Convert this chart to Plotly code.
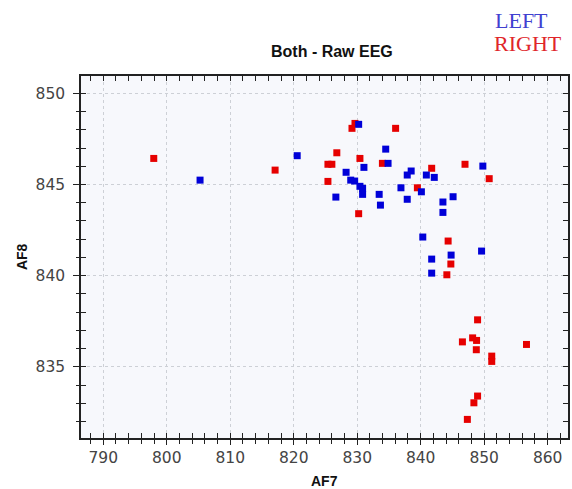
import plotly.graph_objects as go

# LEFT (blue) series: AF7 (x) vs AF8 (y)
left_af7 = [805.25, 820.55, 830.23, 834.49, 834.86, 831.06, 828.25, 828.98, 829.60, 830.43,
            830.85, 830.85, 826.64, 833.46, 833.66, 836.89, 837.88, 838.50, 837.88, 840.11,
            840.89, 842.14, 843.50, 843.50, 845.10, 849.79, 840.33, 849.59, 841.73, 844.79,
            841.73]
left_af8 = [845.24, 846.58, 848.30, 846.94, 846.16, 845.94, 845.67, 845.24, 845.19, 844.90,
            844.79, 844.46, 844.31, 844.46, 843.87, 844.82, 845.52, 845.74, 844.19, 844.60,
            845.52, 845.39, 844.04, 843.47, 844.33, 846.01, 842.12, 841.35, 840.91, 841.13,
            840.14]

# RIGHT (red) series
right_af7 = [797.96, 817.07, 829.65, 829.18, 836.05, 826.79, 825.39, 826.01, 830.43, 825.39,
             833.97, 841.73, 846.98, 850.79, 839.48, 830.23, 844.32, 844.75, 844.12, 848.96,
             846.57, 848.18, 848.80, 848.76, 856.66, 851.19, 851.19, 848.96, 848.38, 847.35]
right_af8 = [846.43, 845.79, 848.35, 848.08, 848.08, 846.74, 846.11, 846.11, 846.43, 845.17,
             846.16, 845.89, 846.11, 845.32, 844.82, 843.40, 841.90, 840.64, 840.05, 837.58,
             836.37, 836.59, 836.45, 835.94, 836.23, 835.59, 835.30, 833.40, 833.03, 832.12]

x_ticks = [790, 800, 810, 820, 830, 840, 850, 860]
y_ticks = [835, 840, 845, 850]
x_range = [786.5, 863.2]
y_range = [831.1, 850.95]

BLUE = "#0000D8"
RED = "#E60000"
tick_font = dict(family="DejaVu Sans", size=15.5, color="#444444")

fig = go.Figure()
fig.add_trace(go.Scatter(x=right_af7, y=right_af8, mode="markers", name="RIGHT",
                         marker=dict(symbol="square", size=7, color=RED, line=dict(width=0)),
                         showlegend=False))
fig.add_trace(go.Scatter(x=left_af7, y=left_af8, mode="markers", name="LEFT",
                         marker=dict(symbol="square", size=7, color=BLUE, line=dict(width=0)),
                         showlegend=False))
# invisible trace to activate overlay axes for inside ticks
fig.add_trace(go.Scatter(x=[None], y=[None], xaxis="x2", yaxis="y2", showlegend=False,
                         hoverinfo="skip"))

fig.update_layout(
    width=572, height=489,
    margin=dict(l=81, r=2, t=76, b=51),
    paper_bgcolor="white",
    plot_bgcolor="#F7F8FC",
    font=dict(family="Liberation Sans, Arial, sans-serif"),
    xaxis=dict(range=x_range, tickvals=x_ticks, ticks="outside", ticklen=5, tickwidth=1.3,
               tickcolor="#222", showline=True, linecolor="#222", linewidth=1.5, mirror=True,
               showgrid=True, gridcolor="#CDD0D6", griddash="dot", gridwidth=1,
               zeroline=False, tickfont=tick_font, ticklabelstandoff=0,
               minor=dict(dtick=2, ticks="outside", ticklen=4, tickcolor="#222", showgrid=False)),
    yaxis=dict(range=y_range, tickvals=y_ticks, ticks="outside", ticklen=6, tickwidth=1.3,
               tickcolor="#222", showline=True, linecolor="#222", linewidth=1.5, mirror=True,
               showgrid=True, gridcolor="#CDD0D6", griddash="dot", gridwidth=1,
               zeroline=False, tickfont=tick_font, ticklabelstandoff=5,
               minor=dict(dtick=1, ticks="outside", ticklen=3, tickcolor="#222", showgrid=False)),
    xaxis2=dict(overlaying="x", range=x_range, tickvals=x_ticks, ticks="inside", ticklen=5,
                tickwidth=1.3, tickcolor="#222", mirror="ticks", showline=False, showgrid=False,
                zeroline=False, showticklabels=False, side="bottom",
                minor=dict(dtick=2, ticks="inside", ticklen=5, tickcolor="#222", showgrid=False)),
    yaxis2=dict(overlaying="y", range=y_range, tickvals=y_ticks, ticks="inside", ticklen=5,
                tickwidth=1.3, tickcolor="#222", mirror="ticks", showline=False, showgrid=False,
                zeroline=False, showticklabels=False, side="left",
                minor=dict(dtick=1, ticks="inside", ticklen=5, tickcolor="#222", showgrid=False)),
    annotations=[
        dict(text="<b>Both - Raw EEG</b>", xref="paper", yref="paper", x=0.516, y=1.069,
             showarrow=False, xanchor="center", yanchor="middle",
             font=dict(family="Liberation Sans, Arial", size=16, color="#111")),
        dict(text="<b>AF7</b>", xref="paper", yref="paper", x=0.5, y=-0.119,
             showarrow=False, xanchor="center", yanchor="middle",
             font=dict(family="Liberation Sans, Arial", size=14, color="#111")),
        dict(text="<b>AF8</b>", xref="paper", yref="paper", x=-0.121, y=0.5, textangle=-90,
             showarrow=False, xanchor="center", yanchor="middle",
             font=dict(family="Liberation Sans, Arial", size=14, color="#111")),
        dict(text="LEFT", xref="paper", yref="paper", x=0.847, y=1.152,
             showarrow=False, xanchor="left", yanchor="middle",
             font=dict(family="Liberation Serif, Times New Roman, serif", size=22, color="#4040D0")),
        dict(text="RIGHT", xref="paper", yref="paper", x=0.843, y=1.091,
             showarrow=False, xanchor="left", yanchor="middle",
             font=dict(family="Liberation Serif, Times New Roman, serif", size=22, color="#E0262A")),
    ],
)

fig.write_html("out.html", post_script="document.body.style.margin='0';",
               config={"displayModeBar": False})
